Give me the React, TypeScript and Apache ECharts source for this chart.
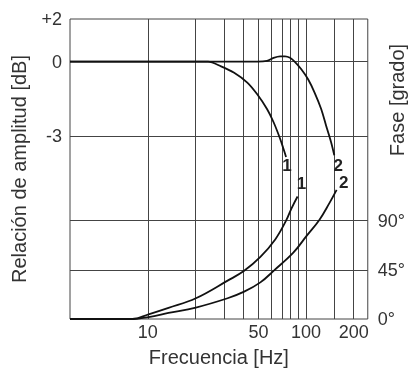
import React, { useEffect, useRef } from 'react';
import * as echarts from 'echarts';

// Amplitude curves (frequency in Hz, amplitude ratio in dB)
const freqAmp1 = [3.22, 20, 24, 29, 35.1, 42.5, 49.1, 56.6, 62.3, 68.5, 71.9, 74.7];
const amp1 = [0, 0, 0, -0.19, -0.45, -0.84, -1.31, -1.9, -2.43, -3.09, -3.49, -3.82];
const freqAmp2 = [3.22, 40, 49.1, 56.6, 62.3, 68.5, 73.6, 79.1, 84.9, 93.5, 102.9, 113.1, 124.5, 133.8, 143.7, 150.7];
const amp2 = [0, 0, 0, 0.03, 0.15, 0.21, 0.21, 0.15, -0.01, -0.32, -0.71, -1.24, -1.9, -2.57, -3.22, -3.75];

// Phase curves (frequency in Hz, phase in degrees)
const freqPh1 = [3.22, 6, 8.0, 10.1, 13.5, 20.1, 31.9, 40.6, 51.4, 63.8, 74.7, 81.0, 88.3];
const phase1 = [0, 0, 0, 4.3, 10.2, 19.0, 35.1, 44.1, 56.8, 72.8, 90.0, 101.5, 112.1];
const freqPh2 = [3.22, 6, 8.0, 10.1, 13.5, 20.1, 31.9, 40.6, 51.4, 62.3, 83.0, 100.4, 121.5, 140.3, 155.9];
const phase2 = [0, 0, 0, 1.8, 5.5, 10.5, 19.0, 25.0, 33.5, 44.1, 60.7, 75.8, 90.9, 106.0, 118.1];

// Axes
const freqMin = 3.22;
const freqMax = 245.3;
const gridFreqs = [10, 20, 30, 40, 50, 60, 70, 80, 90, 100, 150, 200];
const freqTicks = [10, 50, 100, 200];
const ampMin = -10.31;
const ampMax = 1.705; // top edge, labelled "+2"
const ampTicks = [-3, 0];
const phaseMin = 0;
const phaseMax = 274.5;
const phaseTicks = [0, 45, 90];
const curveLabels = ['1', '2', '1', '2'];

const lg = (f: number) => Math.log10(f);
const zip = (xs: number[], ys: number[]) => xs.map((x, i) => [lg(x), ys[i]]);

const FONT = '"Liberation Sans", Arial, sans-serif';
const TXT = '#333';
const GRID = '#444';

function curve(
  name: string,
  xs: number[],
  ys: number[],
  yAxisIndex: number,
  label: string,
  offset: number[],
  smooth: number
) {
  const last = xs.length - 1;
  return {
    name,
    type: 'line',
    xAxisIndex: 0,
    yAxisIndex,
    data: zip(xs, ys),
    smooth,
    showSymbol: false,
    z: 5,
    lineStyle: { color: '#111', width: 1.8 },
    markPoint: {
      symbol: 'circle',
      symbolSize: 1,
      itemStyle: { color: 'rgba(0,0,0,0)' },
      silent: true,
      label: {
        show: true,
        formatter: label,
        position: 'inside',
        offset,
        fontFamily: FONT,
        fontWeight: 'bold',
        fontSize: 17,
        color: '#222',
      },
      data: [{ coord: [lg(xs[last]), ys[last]] }],
    },
  };
}

export default function App() {
  const ref = useRef<HTMLDivElement>(null);
  useEffect(() => {
    const chart = echarts.init(ref.current!, null, { renderer: 'svg' });
    const gridLineStyle = { color: GRID, width: 1, type: 'solid' };
    const option = {
      animation: false,
      grid: {
        left: 70,
        right: 36,
        top: 19,
        bottom: 50,
        show: true,
        borderColor: GRID,
        borderWidth: 1,
        backgroundColor: 'transparent',
      },
      xAxis: {
        type: 'value',
        min: lg(freqMin),
        max: lg(freqMax),
        axisLine: { show: false },
        axisTick: { show: false },
        splitLine: { show: false },
        axisLabel: {
          customValues: freqTicks.map(lg),
          formatter: (v: number) => String(Math.round(Math.pow(10, v))),
          fontFamily: FONT,
          fontSize: 18,
          color: TXT,
          margin: 4,
        },
        name: 'Frecuencia [Hz]',
        nameLocation: 'middle',
        nameGap: 28,
        nameTextStyle: { fontFamily: FONT, fontSize: 20, color: TXT },
      },
      yAxis: [
        {
          type: 'value',
          position: 'left',
          min: ampMin,
          max: ampMax,
          axisLine: { show: false },
          axisTick: { show: false },
          splitLine: { show: false },
          axisLabel: {
            customValues: [...ampTicks, ampMax],
            formatter: (v: number) => (v > 1 ? '+2' : String(v)),
            fontFamily: FONT,
            fontSize: 18,
            color: TXT,
            margin: 8,
          },
          name: 'Relación de amplitud [dB]',
          nameLocation: 'middle',
          nameGap: 41,
          nameRotate: 90,
          nameTextStyle: { fontFamily: FONT, fontSize: 20, color: TXT },
        },
        {
          type: 'value',
          position: 'right',
          min: phaseMin,
          max: phaseMax,
          axisLine: { show: false },
          axisTick: { show: false },
          splitLine: { show: false },
          axisLabel: {
            customValues: phaseTicks,
            formatter: (v: number) => v + '°',
            fontFamily: FONT,
            fontSize: 18,
            color: TXT,
            margin: 10,
          },
        },
      ],
      graphic: [
        {
          type: 'text',
          x: 397,
          y: 100,
          rotation: Math.PI / 2,
          style: {
            text: 'Fase [grado]',
            fontFamily: FONT,
            fontSize: 20,
            fill: TXT,
            align: 'center',
            verticalAlign: 'middle',
          },
        },
      ],
      series: [
        {
          name: 'grid-amp',
          type: 'line',
          yAxisIndex: 0,
          data: [],
          z: 1,
          markLine: {
            silent: true,
            symbol: 'none',
            label: { show: false },
            lineStyle: gridLineStyle,
            data: [
              ...gridFreqs.map((f) => ({ xAxis: lg(f) })),
              ...ampTicks.map((v) => ({ yAxis: v })),
            ],
          },
        },
        {
          name: 'grid-phase',
          type: 'line',
          yAxisIndex: 1,
          data: [],
          z: 1,
          markLine: {
            silent: true,
            symbol: 'none',
            label: { show: false },
            lineStyle: gridLineStyle,
            data: phaseTicks.filter((v) => v > 0).map((v) => ({ yAxis: v })),
          },
        },
        curve('Amplitud 1', freqAmp1, amp1, 0, curveLabels[0], [1, 9], 0.3),
        curve('Amplitud 2', freqAmp2, amp2, 0, curveLabels[1], [4, 10], 0.3),
        curve('Fase 1', freqPh1, phase1, 1, curveLabels[2], [4, -13], 0.4),
        curve('Fase 2', freqPh2, phase2, 1, curveLabels[3], [7, -7], 0.4),
      ],
    };
    chart.setOption(option as any);
    return () => chart.dispose();
  }, []);
  return (
    <div
      ref={ref}
      style={{ position: 'fixed', left: 0, top: 0, width: 408, height: 372 }}
    />
  );
}
